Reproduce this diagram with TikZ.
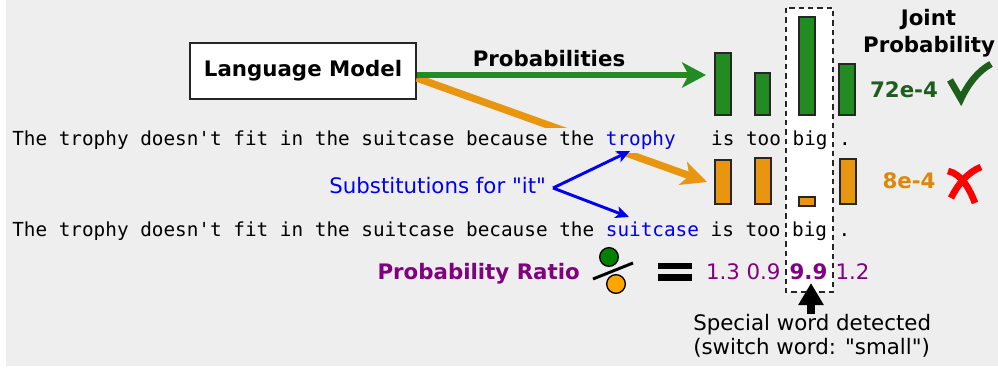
\documentclass[tikz,border=0pt]{standalone}
\usepackage{fontspec}
\setmainfont{DejaVu Sans}[Ligatures=TeXOff]
\setmonofont{DejaVu Sans Mono}
\usetikzlibrary{arrows.meta,calc}
\definecolor{bg}{HTML}{EEEEEE}
\definecolor{fgreen}{HTML}{228B22}
\definecolor{dgreen}{HTML}{1D5E1D}
\definecolor{forange}{HTML}{E8960F}
\definecolor{torange}{HTML}{E0870B}
\definecolor{tblue}{HTML}{0000EE}
\definecolor{tpurple}{HTML}{800080}
\definecolor{cgreen}{HTML}{008000}
\definecolor{corange}{HTML}{FFA500}
\tikzset{
  lbl/.style={inner sep=0pt, font=\fontsize{16pt}{19pt}\selectfont},
  blbl/.style={inner sep=0pt, font=\fontsize{16pt}{19pt}\selectfont\bfseries},
  mono/.style={inner sep=0pt, font=\fontsize{14.5pt}{17pt}\selectfont\ttfamily},
  lmbox/.style={draw=black!85, line width=1.1pt, fill=white, minimum width=169.5pt, minimum height=42pt, inner sep=0pt, font=\fontsize{16pt}{19pt}\selectfont\bfseries},
  gbar/.style={fill=fgreen, draw=black!85, line width=1pt},
  obar/.style={fill=forange, draw=black!85, line width=1pt},
  greenarrow/.style={draw=fgreen, line width=4.5pt, -{Stealth[length=18pt,width=19pt,inset=5pt]}},
  orangearrow/.style={draw=forange, line width=5.5pt, -{Stealth[length=19pt,width=18pt,inset=5pt]}},
  bluearrow/.style={draw=tblue, line width=2.2pt, -{Stealth[length=10pt,width=9pt,inset=2.5pt]}},
  dashbox/.style={draw=black!85, fill=white, line width=1.1pt, dash pattern=on 4pt off 3pt},
  circ/.style={circle, draw=black, line width=1pt, minimum size=14pt, inner sep=0pt}
}
\begin{document}
\begin{tikzpicture}[x=0.75pt,y=-0.75pt]
\useasboundingbox (0,0) rectangle (998,370);
\fill[bg] (6,0) rectangle (998,366);
% highlighted column
\draw[dashbox] (786,8) rectangle (833,292);
% language model
\node[lmbox] (lm) at (303,71) {Language Model};
\coordinate (gtip) at (706,75);
\coordinate (otip) at (707,182);
\draw[orangearrow] ($(lm.east)+(0,7)$) -- (otip);
\draw[greenarrow] ($(lm.east)+(0,4)$) -- (gtip);
\node[blbl, anchor=base] (prob) at (549,67) {Probabilities};
% sentences
\node[mono, anchor=base west, fill=bg, inner ysep=2.5pt] (s1a) at (12,146) {The trophy doesn't fit in the suitcase because the \textcolor{tblue}{trophy}};
\node[mono, anchor=base west] (s1b) at (s1a.base east) {\ \ \ is too big .};
\node[mono, anchor=base west] (s2) at (12,237) {The trophy doesn't fit in the suitcase because the \textcolor{tblue}{suitcase} is too big .};
% substitutions
\node[lbl, text=tblue, anchor=base west] (sub) at (329,194) {Substitutions for "it"};
\coordinate (sv) at (553,188);
\coordinate (t1) at (630,151);
\coordinate (t2) at (629,217);
\draw[bluearrow] (sv) -- (t1);
\draw[bluearrow] (sv) -- (t2);
% green bars
\draw[gbar] (715,53) rectangle (731,115);
\draw[gbar] (755,73) rectangle (770,115);
\draw[gbar] (799,17) rectangle (815,115);
\draw[gbar] (839,64) rectangle (855,115);
% orange bars
\draw[obar] (715,160) rectangle (731,204);
\draw[obar] (755,158) rectangle (771,204);
\draw[obar] (799,197) rectangle (815,206);
\draw[obar] (840,159) rectangle (856,204);
% joint probability
\node[blbl, anchor=base] (j1) at (928.5,26) {Joint};
\node[blbl, anchor=base] (j2) at (929,53) {Probability};
\node[blbl, text=dgreen, anchor=base] (p1) at (904,98) {72e-4};
\node[blbl, text=torange, anchor=base] (p2) at (909,189) {8e-4};
% check mark
\draw[dgreen, line width=5pt] (950,80) -- (961,99) .. controls (968,84) and (978,71) .. (991,64);
% cross
\draw[red, line width=5pt] (948,171) .. controls (962,174) and (970,190) .. (975,203);
\draw[red, line width=5pt] (981,167) .. controls (968,172) and (958,184) .. (951,198);
% ratio
\node[blbl, text=tpurple, anchor=base east] (pr) at (580,279) {Probability Ratio};
\node[circ, fill=cgreen] (cg) at (609,257) {};
\node[circ, fill=corange] (co) at (616,284) {};
\draw[line width=2.2pt] (593,279) -- (633,263);
\fill (658,263) rectangle (692,269);
\fill (658,274) rectangle (692,281);
\node[lbl, text=tpurple, anchor=base] (r1) at (723,279) {1.3};
\node[lbl, text=tpurple, anchor=base] (r2) at (763.5,279) {0.9};
\node[blbl, text=tpurple, anchor=base] (r3) at (808.5,279) {9.9};
\node[lbl, text=tpurple, anchor=base] (r4) at (852.5,279) {1.2};
% special word
\node[lbl, anchor=base west] (sw1) at (693,330) {Special word detected};
\node[lbl, anchor=base west] (sw2) at (693,354) {(switch word: "small")};
\coordinate (ab) at (811,314);
\coordinate (at) at (811,283);
\draw[line width=6pt, -{Triangle[length=16.5pt,width=18pt]}] (ab) -- (at);
\end{tikzpicture}
\end{document}
